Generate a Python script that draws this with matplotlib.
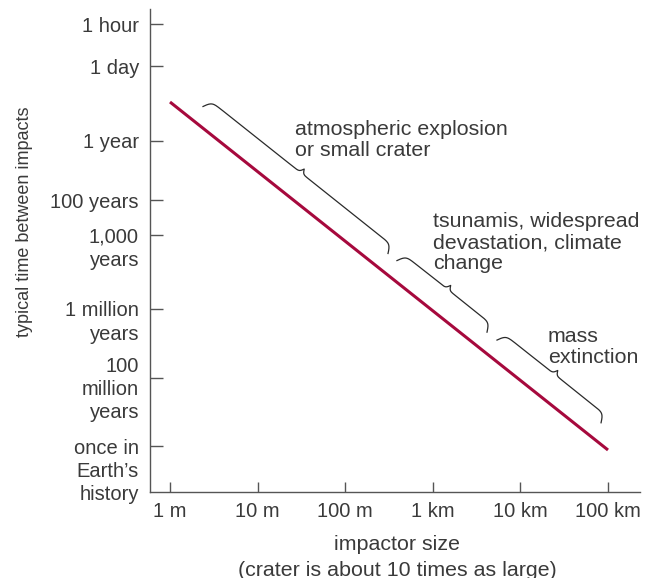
import numpy as np
import matplotlib
matplotlib.use("Agg")
import matplotlib.pyplot as plt
from matplotlib.transforms import blended_transform_factory

plt.rcParams['font.family'] = ['Liberation Sans', 'DejaVu Sans']

# ---------------------------------------------------------------------------
# data (schematic chart: y positions are arbitrary "rank" units)
# ---------------------------------------------------------------------------
size_log = [0, 1, 2, 3, 4, 5]                       # log10(impactor size / m)
size_labels = ["1 m", "10 m", "100 m", "1 km", "10 km", "100 km"]

time_pos = [468, 426, 351, 292, 257, 183, 114, 46]
time_labels = ["1 hour", "1 day", "1 year", "100 years", "1,000\nyears",
               "1 million\nyears", "100\nmillion\nyears",
               "once in\nEarth\u2019s\nhistory"]
time_label_shift = [0, 0, 0, 0, 0, 0, 14, 0]

line_size = [0, 5]
line_time = [390, 42]

# brace ranges along the line (log10 size) and their labels
brace_ranges = [(0.256, 2.368), (2.47, 3.498), (3.612, 4.80)]
brace_texts = ["atmospheric explosion\nor small crater",
               "tsunamis, widespread\ndevastation, climate\nchange",
               "mass\nextinction"]
brace_text_pos = [(1.427, 372), (3.0, 280), (4.315, 165)]

TXT = '#3a3a3a'
AX = '#555555'
RED = '#a6093d'
FS_TICK = 14.5
FS_NOTE = 15.4

fig = plt.figure(figsize=(6.45, 5.78), dpi=100)
W, H = 645, 578
ax = fig.add_axes([150 / W, 1 - 492 / H, 490 / W, 483 / H])

ax.set_xlim(-20 / 87.6, 470 / 87.6)
ax.set_ylim(0, 483)

for s in ['top', 'right']:
    ax.spines[s].set_visible(False)
for s in ['left', 'bottom']:
    ax.spines[s].set_color(AX)
    ax.spines[s].set_linewidth(1.0)

ax.set_xticks(size_log)
ax.set_xticklabels(size_labels, fontsize=FS_TICK, color=TXT)
ax.tick_params(axis='x', direction='in', length=7.5, width=1.0, color=AX, pad=7)
ax.set_yticks(time_pos)
ax.set_yticklabels([])
ax.tick_params(axis='y', direction='in', length=9.5, width=1.0, color=AX)

trans = blended_transform_factory(ax.transAxes, ax.transData)
for y, lab, sh in zip(time_pos, time_labels, time_label_shift):
    ax.text(-11 / 490, y + 7.5 + sh, lab, transform=trans, ha='right', va='top',
            fontsize=FS_TICK, color=TXT, linespacing=1.3, multialignment='right')

# main line
ax.plot(line_size, line_time, color=RED, lw=2.2, solid_capstyle='butt')


def brace(x0, x1, d0=17, a1=9, a2=5, k1=0.45, k2=0.8):
    # curly brace drawn in display space, offset from the line
    tr = ax.transData
    pA = tr.transform((line_size[0], line_time[0]))
    pB = tr.transform((line_size[1], line_time[1]))
    u = (pB - pA) / np.linalg.norm(pB - pA)
    n = np.array([-u[1], u[0]])
    if n[1] < 0:
        n = -n
    f = lambda x: np.interp(x, line_size, line_time)
    p0 = tr.transform((x0, f(x0)))
    p1 = tr.transform((x1, f(x1)))
    L = np.dot(p1 - p0, u)
    s = np.linspace(0, L / 2, 200)
    t = d0 + a1 * (2 / (1 + np.exp(-k1 * s)) - 1) + a2 * 2 / (1 + np.exp(-k2 * (s - L / 2)))
    s_full = np.concatenate([s, L - s[::-1]])
    t_full = np.concatenate([t, t[::-1]])
    pts = p0 + np.outer(s_full, u) + np.outer(t_full, n)
    data = tr.inverted().transform(pts)
    ax.plot(data[:, 0], data[:, 1], color='#2a2a2a', lw=0.9)


for (x0, x1), txt, (tx, ty) in zip(brace_ranges, brace_texts, brace_text_pos):
    brace(x0, x1)
    ax.text(tx, ty, txt, ha='left', va='top', fontsize=FS_NOTE, color=TXT,
            linespacing=1.14)

fig.text(25 / W, 1 - 222 / H, "typical time between impacts", rotation=90,
         ha='center', va='center', fontsize=13, color=TXT)
fig.text(397 / W, 1 - 545 / H, "impactor size", ha='center', va='center',
         fontsize=FS_NOTE, color=TXT)
fig.text(397 / W, 1 - 570 / H, "(crater is about 10 times as large)", ha='center',
         va='center', fontsize=FS_NOTE, color=TXT)

fig.savefig('out.png', dpi=100)
